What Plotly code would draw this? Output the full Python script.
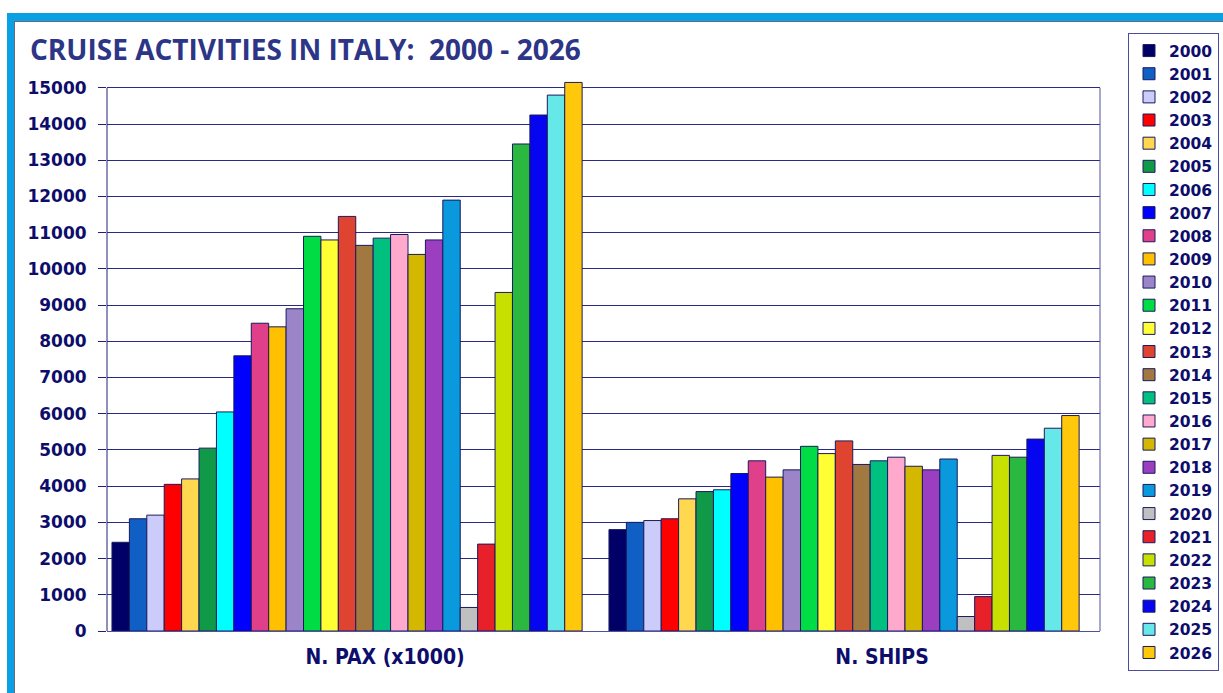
import plotly.graph_objects as go

# ---------------- data ----------------
categories = ["N. PAX (x1000)", "N. SHIPS"]
years = [str(y) for y in range(2000, 2027)]
pax = [2450, 3100, 3200, 4050, 4200, 5050, 6050, 7600, 8500, 8400,
       8900, 10900, 10800, 11450, 10650, 10850, 10950, 10400, 10800, 11900,
       650, 2400, 9350, 13450, 14250, 14800, 15150]
ships = [2800, 3000, 3050, 3100, 3650, 3850, 3900, 4350, 4700, 4250,
         4450, 5100, 4900, 5250, 4600, 4700, 4800, 4550, 4450, 4750,
         400, 950, 4850, 4800, 5300, 5600, 5950]
colors = ["#000066", "#0f5fc4", "#ccccfa", "#ff0000", "#ffd850", "#109a48",
          "#00ffff", "#0000ff", "#e0408a", "#ffc000", "#9b85c8", "#00dd44",
          "#ffff33", "#de4430", "#a07840", "#00c080", "#ffaacc", "#d4b800",
          "#9b3fc0", "#0a99dd", "#c0c0c0", "#e8202a", "#c8e000", "#2ab840",
          "#0505f0", "#66e8e8", "#ffc80a"]
y_ticks = list(range(0, 15001, 1000))

# ---------------- layout geometry ----------------
W, H = 1223, 693
PL, PR, PT, PB = 107, 1100, 77, 631
NAVY = "#0d0d6b"


def px(x):
    return (x - PL) / (PR - PL)


def py(y):
    return (PB - y) / (PB - PT)


fig = go.Figure()
for yr, col, p, s in zip(years, colors, pax, ships):
    fig.add_trace(go.Bar(
        name=yr, x=categories, y=[p, s],
        marker=dict(color=col, line=dict(color="#1a1a5e", width=1)),
    ))

shapes = [
    # blue frame bands
    dict(type="rect", xref="paper", yref="paper", x0=px(7), x1=px(W), y0=py(21), y1=py(13),
         fillcolor="#0aa0e4", line=dict(width=0), layer="below"),
    dict(type="rect", xref="paper", yref="paper", x0=px(7), x1=px(14), y0=py(H), y1=py(13),
         fillcolor="#0aa0e4", line=dict(width=0), layer="below"),
    dict(type="line", xref="paper", yref="paper", x0=px(14), x1=px(W), y0=py(21.5), y1=py(21.5),
         line=dict(color="#6a6a7a", width=1)),
    dict(type="line", xref="paper", yref="paper", x0=px(14.5), x1=px(14.5), y0=py(H), y1=py(21.5),
         line=dict(color="#6a6a7a", width=1)),
    # left wall and right wall
    dict(type="line", xref="paper", yref="y", x0=0, x1=0, y0=0, y1=15000,
         line=dict(color="#20207a", width=1)),
    dict(type="line", xref="paper", yref="y", x0=1, x1=1, y0=0, y1=15000,
         line=dict(color="#5050a0", width=1)),
]

fig.update_layout(
    width=W, height=H,
    margin=dict(l=PL, r=W - PR, t=PT, b=H - PB, pad=0, autoexpand=False),
    paper_bgcolor="white", plot_bgcolor="white",
    barmode="group", bargap=0.054, bargroupgap=0,
    title=dict(text="CRUISE ACTIVITIES IN ITALY:\u00a0 2000 - 2026",
               font=dict(family="Open Sans", size=28, color="#2d3586", weight="bold"),
               x=30 / W, xanchor="left", xref="container",
               y=1 - 50 / H, yanchor="middle", yref="container"),
    xaxis=dict(range=[-0.483, 1.515], showgrid=False, showline=True,
               linecolor="#5050a0", linewidth=1, ticks="",
               tickfont=dict(family="DejaVu Sans Condensed", size=21, color=NAVY, weight="bold"),
               ticklabelstandoff=7, ticklabelshift=38),
    yaxis=dict(range=[0, 15300], tickvals=y_ticks, ticktext=[str(v) for v in y_ticks],
               showgrid=True, gridcolor="#2a2a85", gridwidth=1, zeroline=False,
               showline=False, ticks="outside", ticklen=8, tickcolor="#20207a",
               tickfont=dict(family="DejaVu Sans", size=17, color=NAVY, weight="bold"),
               ticklabelstandoff=8),
    legend=dict(x=1128 / W, y=1 - 33 / H, xref="container", yref="container",
                xanchor="left", yanchor="top", maxheight=660,
                bgcolor="white", bordercolor="#4b4ba0", borderwidth=1,
                font=dict(family="DejaVu Sans", size=15.5, color=NAVY, weight="bold"),
                tracegroupgap=0),
    shapes=shapes,
    showlegend=True,
)

fig.write_html("out.html", config={"displayModeBar": False},
               post_script="document.body.style.margin='0';")
